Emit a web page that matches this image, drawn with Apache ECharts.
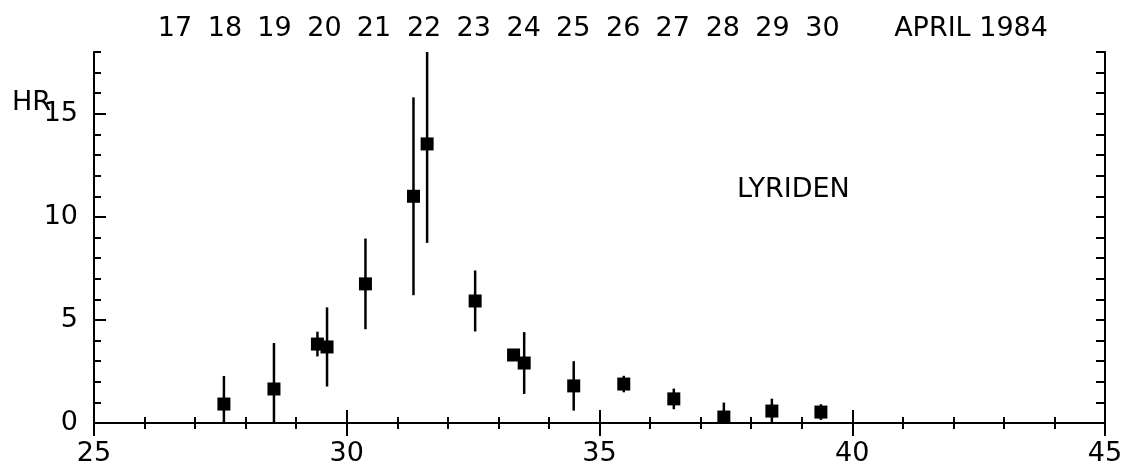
<!DOCTYPE html>
<html>
<head>
<meta charset="utf-8">
<style>
  html, body { margin: 0; padding: 0; background: #fff; }
  #chart { width: 1122px; height: 464px; }
</style>
<script src="https://cdn.jsdelivr.net/npm/echarts@6/dist/echarts.min.js"></script>
</head>
<body>
<div id="chart"></div>
<script>
// solar longitude of each observation, hourly rate, and error (half length of bar)
var longitudes = [27.57, 28.56, 29.42, 29.61, 30.37, 31.32, 31.59, 32.54, 33.30, 33.51, 34.49, 35.48, 36.47, 37.46, 38.41, 39.38];
var hourlyRates = [0.92, 1.65, 3.83, 3.69, 6.75, 11.0, 13.54, 5.92, 3.30, 2.91, 1.80, 1.89, 1.17, 0.29, 0.58, 0.53];
var rateErrors = [1.36, 2.23, 0.6, 1.92, 2.2, 4.8, 4.8, 1.48, 0.2, 1.5, 1.2, 0.4, 0.5, 0.7, 0.6, 0.38];

// bottom axis / left axis labels
var xTickLabels = [25, 30, 35, 40, 45];
var yTickLabels = [0, 5, 10, 15];

// top axis: day of month placed at its solar longitude
var dayLabels = ["17", "18", "19", "20", "21", "22", "23", "24", "25", "26", "27", "28", "29", "30"];
var dayLongitudes = [26.60, 27.59, 28.57, 29.56, 30.54, 31.53, 32.51, 33.50, 34.48, 35.47, 36.45, 37.44, 38.42, 39.41];
var monthLabel = "APRIL 1984";
var monthLongitude = 42.35;

var FONT = "DejaVu Sans";
var FS = 27;
var chart = echarts.init(document.getElementById("chart"));

var lineStyle = { color: "#000", width: 2 };

var option = {
  animation: false,
  backgroundColor: "#fff",
  // keep the plot frame fixed, labels may sit near the edges
  grid: { left: 94, right: 17, top: 52, bottom: 41, outerBoundsMode: "none", containLabel: false },
  xAxis: [
    {
      type: "value",
      position: "bottom",
      min: 25,
      max: 45,
      interval: 5,
      splitLine: { show: false },
      axisLine: { lineStyle: lineStyle },
      axisTick: { inside: true, length: 13, lineStyle: lineStyle },
      minorTick: { show: true, splitNumber: 5, length: 6, lineStyle: lineStyle },
      axisLabel: {
        customValues: xTickLabels,
        margin: 17,
        color: "#000",
        fontFamily: FONT,
        fontSize: FS
      }
    },
    {
      type: "value",
      position: "top",
      min: 25,
      max: 45,
      interval: 5,
      splitLine: { show: false },
      axisLine: { lineStyle: lineStyle },
      axisTick: { inside: true, length: 13, lineStyle: lineStyle },
      minorTick: { show: true, splitNumber: 5, length: 6, lineStyle: lineStyle },
      axisLabel: {
        customValues: dayLongitudes.concat([monthLongitude]),
        margin: 10,
        color: "#000",
        fontFamily: FONT,
        fontSize: FS,
        formatter: function (v) {
          if (v === monthLongitude) return monthLabel;
          var i = dayLongitudes.indexOf(v);
          return i >= 0 ? dayLabels[i] : "";
        }
      }
    }
  ],
  yAxis: [
    {
      type: "value",
      position: "left",
      min: 0,
      max: 18,
      interval: 1,
      splitLine: { show: false },
      axisLine: { show: true, lineStyle: lineStyle },
      axisTick: { inside: true, length: 7, lineStyle: lineStyle },
      axisLabel: {
        customValues: yTickLabels,
        margin: 16,
        color: "#000",
        fontFamily: FONT,
        fontSize: FS
      }
    },
    {
      // longer ticks at the labelled values
      type: "value",
      position: "left",
      min: 0,
      max: 18,
      splitLine: { show: false },
      axisLine: { show: false },
      axisTick: { show: true, inside: true, length: 12, customValues: [5, 10, 15], lineStyle: lineStyle },
      axisLabel: { show: false }
    },
    {
      type: "value",
      position: "right",
      min: 0,
      max: 18,
      interval: 1,
      splitLine: { show: false },
      axisLine: { show: true, lineStyle: lineStyle },
      axisTick: { inside: true, length: 9, lineStyle: lineStyle },
      axisLabel: { show: false }
    }
  ],
  graphic: [
    {
      type: "text",
      left: 12,
      top: 89,
      style: { text: "HR", fill: "#000", font: FS + "px " + FONT }
    },
    {
      type: "text",
      left: 737,
      top: 176,
      style: { text: "LYRIDEN", fill: "#000", font: FS + "px " + FONT }
    }
  ],
  series: [
    {
      name: "error",
      type: "custom",
      xAxisIndex: 0,
      yAxisIndex: 0,
      clip: true,
      data: longitudes.map(function (x, i) {
        return [x, hourlyRates[i] - rateErrors[i], hourlyRates[i] + rateErrors[i]];
      }),
      encode: { x: 0, y: [1, 2] },
      renderItem: function (params, api) {
        var lo = api.coord([api.value(0), api.value(1)]);
        var hi = api.coord([api.value(0), api.value(2)]);
        return {
          type: "line",
          shape: { x1: lo[0], y1: lo[1], x2: hi[0], y2: hi[1] },
          style: { stroke: "#000", lineWidth: 2.5 }
        };
      }
    },
    {
      name: "HR",
      type: "scatter",
      xAxisIndex: 0,
      yAxisIndex: 0,
      symbol: "rect",
      symbolSize: 13,
      itemStyle: { color: "#000", opacity: 1 },
      data: longitudes.map(function (x, i) { return [x, hourlyRates[i]]; })
    }
  ]
};

chart.setOption(option);
</script>
</body>
</html>
